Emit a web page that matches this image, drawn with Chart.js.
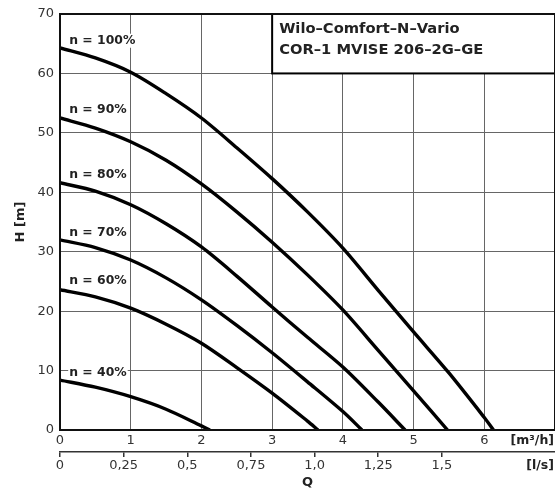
<!DOCTYPE html>
<html>
<head>
<meta charset="utf-8">
<script src="https://cdn.jsdelivr.net/npm/chart.js@4"></script>
<style>
  html, body { margin: 0; padding: 0; background: #fff; }
</style>
</head>
<body>
<canvas id="result" width="555" height="490"></canvas>
<script>
// pump curves, Q in m3/h, H in m
const q100 = [0, 0.5, 1, 1.5, 2, 2.5, 3, 3.5, 4, 4.5, 5, 5.5, 6, 6.13];
const h100 = [64.3, 62.6, 60.2, 56.6, 52.5, 47.5, 42.3, 36.7, 30.6, 23.5, 16.5, 9.6, 2.1, 0];
const q90 = [0, 0.5, 1, 1.5, 2, 2.5, 3, 3.5, 4, 4.5, 5, 5.48];
const h90 = [52.5, 50.8, 48.5, 45.4, 41.4, 36.7, 31.6, 26.1, 20.2, 13.4, 6.6, 0];
const q80 = [0, 0.5, 1, 1.5, 2, 2.5, 3, 3.5, 4, 4.5, 4.88];
const h80 = [41.6, 40.2, 37.9, 34.7, 30.8, 25.9, 20.7, 15.6, 10.6, 4.7, 0];
const q70 = [0, 0.5, 1, 1.5, 2, 2.5, 3, 3.5, 4, 4.27];
const h70 = [32.0, 30.7, 28.6, 25.6, 21.9, 17.6, 13.0, 8.1, 3.1, 0];
const q60 = [0, 0.5, 1, 1.5, 2, 2.5, 3, 3.5, 3.65];
const h60 = [23.6, 22.4, 20.5, 17.8, 14.6, 10.5, 6.2, 1.5, 0];
const q40 = [0, 0.5, 1, 1.5, 2, 2.12];
const h40 = [8.4, 7.2, 5.6, 3.5, 0.7, 0];

const speedLabels = ['n = 100%', 'n = 90%', 'n = 80%', 'n = 70%', 'n = 60%', 'n = 40%'];
const speedLabelH = [65.5, 53.8, 42.9, 33.2, 25.1, 9.6];

const mTicks = [0, 1, 2, 3, 4, 5, 6, 7];
const lsTicks = [0, 0.25, 0.5, 0.75, 1.0, 1.25, 1.5];
const lsTickLabels = ['0', '0,25', '0,5', '0,75', '1,0', '1,25', '1,5'];
const titleLines = ['Wilo–Comfort–N–Vario', 'COR–1 MVISE 206–2G–GE'];

const FONT = "'DejaVu Sans', sans-serif";

function series(qs, hs) {
    return {
        data: qs.map((q, i) => ({ x: q, y: hs[i] })),
        borderColor: '#000',
        borderWidth: 3.4,
        pointRadius: 0,
        tension: 0.3,
        fill: false
    };
}

const decor = {
    id: 'decor',
    beforeDatasetsDraw(chart) {
        const c = chart.ctx, x = chart.scales.x, y = chart.scales.y;
        // title box in the top right corner
        const bx = x.getPixelForValue(3), by = y.getPixelForValue(70);
        const bw = x.getPixelForValue(7) - bx, bh = y.getPixelForValue(60) - by;
        c.save();
        c.fillStyle = '#fff';
        c.fillRect(bx, by, bw, bh);
        c.strokeStyle = '#000';
        c.lineWidth = 2;
        c.strokeRect(bx, by, bw, bh);
        c.fillStyle = '#222';
        c.font = 'bold 14.7px ' + FONT;
        c.textBaseline = 'middle';
        c.fillText(titleLines[0], bx + 7, by + 15);
        c.fillText(titleLines[1], bx + 7, by + 36);
        // speed labels
        c.font = 'bold 12.4px ' + FONT;
        speedLabels.forEach((t, i) => {
            const px = x.getPixelForValue(0.13), py = y.getPixelForValue(speedLabelH[i]);
            const w = c.measureText(t).width;
            c.fillStyle = '#fff';
            c.fillRect(px - 1, py - 7, w + 2, 14);
            c.fillStyle = '#222';
            c.fillText(t, px, py);
        });
        c.restore();
    },
    afterDatasetsDraw(chart) {
        const c = chart.ctx, a = chart.chartArea;
        c.save();
        c.strokeStyle = '#111';
        c.lineWidth = 2;
        c.strokeRect(a.left, a.top, a.right - a.left, a.bottom - a.top);
        c.restore();
    },
    afterDraw(chart) {
        const c = chart.ctx, a = chart.chartArea;
        c.save();
        c.fillStyle = '#222';
        c.font = 'bold 12.5px ' + FONT;
        c.textAlign = 'right';
        c.textBaseline = 'middle';
        c.fillText('[m³/h]', 554, a.bottom + 11);
        c.fillText('[l/s]', 554, a.bottom + 36);
        c.restore();
    }
};

const ctx = document.getElementById('result').getContext('2d');
new Chart(ctx, {
    type: 'line',
    data: {
        datasets: [
            series(q100, h100), series(q90, h90), series(q80, h80),
            series(q70, h70), series(q60, h60), series(q40, h40)
        ]
    },
    options: {
        responsive: false,
        animation: false,
        layout: { padding: { top: 14, right: 0, left: 0, bottom: 0 } },
        plugins: { legend: { display: false }, tooltip: { enabled: false } },
        scales: {
            x: {
                type: 'linear',
                position: 'bottom',
                min: 0, max: 7,
                afterBuildTicks: axis => { axis.ticks = mTicks.map(v => ({ value: v })); },
                afterFit: axis => { axis.height = 22; axis.paddingRight = 0; axis.paddingLeft = 0; },
                ticks: {
                    callback: v => (v === 7 ? '' : String(v)),
                    color: '#333',
                    font: { family: FONT, size: 13 },
                    padding: 3,
                    maxRotation: 0
                },
                grid: { color: '#666', lineWidth: 1, drawTicks: false },
                border: { display: false }
            },
            x2: {
                type: 'linear',
                position: 'bottom',
                min: 0, max: 7 / 3.6,
                afterBuildTicks: axis => { axis.ticks = lsTicks.map(v => ({ value: v })); },
                afterFit: axis => { axis.height = 38; axis.paddingRight = 0; axis.paddingLeft = 0; },
                ticks: {
                    callback: (v, i) => lsTickLabels[i],
                    color: '#333',
                    font: { family: FONT, size: 13 },
                    padding: 1,
                    maxRotation: 0
                },
                grid: { drawOnChartArea: false, color: '#333', lineWidth: 1.5, tickLength: 5 },
                border: { display: true, color: '#333', width: 1.5 },
                title: {
                    display: true,
                    text: 'Q',
                    color: '#222',
                    font: { family: FONT, size: 13, weight: 'bold' },
                    padding: 0
                }
            },
            y: {
                min: 0, max: 70,
                ticks: {
                    stepSize: 10,
                    color: '#333',
                    font: { family: FONT, size: 13 },
                    padding: 6
                },
                afterFit: axis => { axis.width = 60; },
                grid: { color: '#666', lineWidth: 1, drawTicks: false },
                border: { display: false },
                title: {
                    display: true,
                    text: 'H [m]',
                    color: '#222',
                    font: { family: FONT, size: 13, weight: 'bold' },
                    padding: { top: 13, bottom: 0 }
                }
            }
        }
    },
    plugins: [decor]
});
</script>
</body>
</html>
